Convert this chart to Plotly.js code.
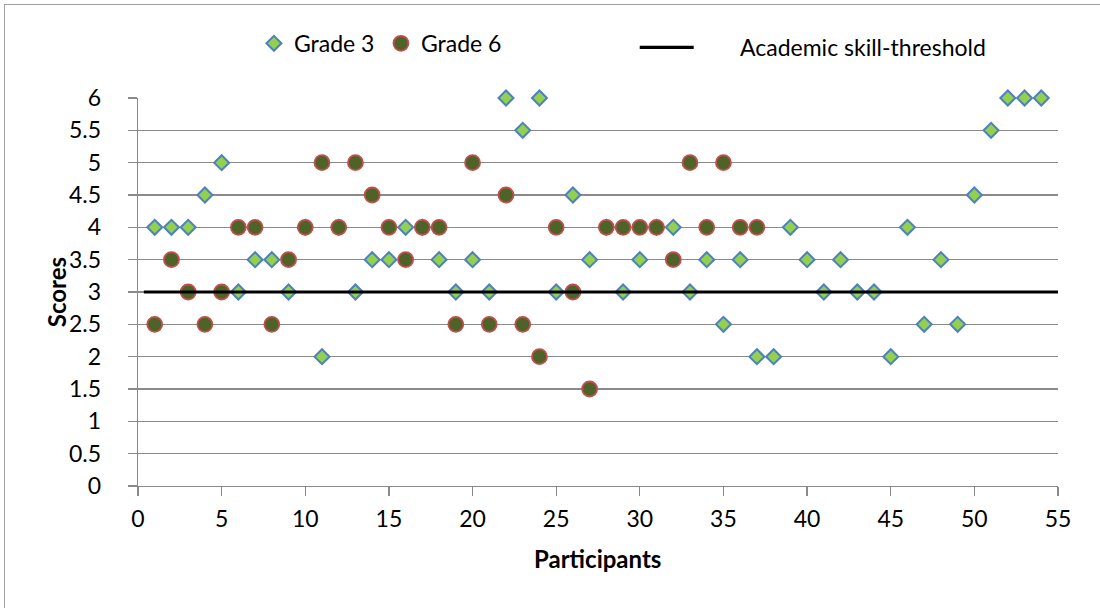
<!DOCTYPE html>
<html>
<head>
<meta charset="utf-8">
<script src="https://cdn.plot.ly/plotly-3.0.1.min.js"></script>
<style>
  html, body { margin: 0; padding: 0; background: #fff; overflow: hidden; }
  #chart { width: 1100px; height: 608px; }
  #frame { position: absolute; left: 4px; top: 4px; width: 2000px; height: 2000px;
           border-left: 1.5px solid #a0a0a0; border-top: 1.5px solid #a0a0a0; pointer-events: none; }
</style>
</head>
<body>
<div id="chart"></div>
<div id="frame"></div>
<script>
// ---- data ----
const grade3Participants = [1,2,3,4,5,6,7,8,9,10,11,12,13,14,15,16,17,18,19,20,21,22,23,24,25,26,27,
  28,29,30,31,32,33,34,35,36,37,38,39,40,41,42,43,44,45,46,47,48,49,50,51,52,53,54];
const grade3Scores = [4,4,4,4.5,5,3,3.5,3.5,3,4,2,4,3,3.5,3.5,4,4,3.5,3,3.5,3,6,5.5,6,3,4.5,3.5,
  4,3,3.5,4,4,3,3.5,2.5,3.5,2,2,4,3.5,3,3.5,3,3,2,4,2.5,3.5,2.5,4.5,5.5,6,6,6];
const grade6Participants = [1,2,3,4,5,6,7,8,9,10,11,12,13,14,15,16,17,18,19,20,21,22,23,24,25,26,27,
  28,29,30,31,32,33,34,35,36,37];
const grade6Scores = [2.5,3.5,3,2.5,3,4,4,2.5,3.5,4,5,4,5,4.5,4,3.5,4,4,2.5,5,2.5,4.5,2.5,2,4,3,1.5,
  4,4,4,4,3.5,5,4,5,4,4];
const thresholdX = [0.35, 55];
const thresholdY = [3, 3];
const seriesNames = ['Grade 3', 'Grade 6', 'Academic skill-threshold'];
const axisTitles = ['Participants', 'Scores'];
const xTickVals = [0,5,10,15,20,25,30,35,40,45,50,55];
const yTickVals = [0,0.5,1,1.5,2,2.5,3,3.5,4,4.5,5,5.5,6];

// ---- layout helpers (page px -> paper) ----
const ML = 138, MR = 41.5, MT = 97.7, MB = 122;
const PW = 1100 - ML - MR, PH = 608 - MT - MB;
const px = v => (v - ML) / PW;
const py = v => (608 - MB - v) / PH;

const FONT = 'Lato, "Open Sans", sans-serif';
const FS = 23;
const grid = '#8a8a8a';

const traces = [
  {
    x: grade3Participants, y: grade3Scores, name: seriesNames[0],
    type: 'scatter', mode: 'markers', cliponaxis: false,
    marker: { symbol: 'diamond', size: 11.5, color: '#92D050', line: { color: '#4F81BD', width: 2 } },
    legend: 'legend'
  },
  {
    x: grade6Participants, y: grade6Scores, name: seriesNames[1],
    type: 'scatter', mode: 'markers', cliponaxis: false,
    marker: { symbol: 'circle', size: 15, color: '#4F6228', line: { color: '#C0504D', width: 1.8 } },
    legend: 'legend'
  },
  {
    x: thresholdX, y: thresholdY, name: seriesNames[2],
    type: 'scatter', mode: 'lines', cliponaxis: false,
    line: { color: '#000000', width: 3.2 },
    showlegend: false
  }
];

const layout = {
  width: 1100, height: 608,
  margin: { l: ML, r: MR, t: MT, b: MB, pad: 0 },
  paper_bgcolor: '#ffffff', plot_bgcolor: '#ffffff',
  font: { family: FONT, size: FS, color: '#000000' },
  xaxis: {
    range: [0, 55], tickmode: 'array', tickvals: xTickVals,
    showgrid: false, zeroline: false,
    showline: true, linecolor: grid, linewidth: 1.3,
    ticks: 'outside', ticklen: 9, tickcolor: grid, tickwidth: 1.3,
    ticklabelstandoff: 3,
    tickfont: { family: FONT, size: FS },
    fixedrange: true
  },
  yaxis: {
    range: [0, 6], tickmode: 'array', tickvals: yTickVals,
    showgrid: true, gridcolor: grid, gridwidth: 1.3, zeroline: false,
    showline: true, linecolor: grid, linewidth: 1.3,
    ticks: 'outside', ticklen: 9, tickcolor: grid, tickwidth: 1.3,
    ticklabelstandoff: 22,
    tickfont: { family: FONT, size: FS },
    fixedrange: true
  },
  showlegend: true,
  legend: {
    orientation: 'h', x: px(254), xanchor: 'left', y: py(43), yanchor: 'middle',
    font: { family: FONT, size: FS }, bgcolor: 'rgba(0,0,0,0)',
    entrywidth: 82, entrywidthmode: 'pixels', itemclick: false, itemdoubleclick: false
  },
  shapes: [
    { type: 'line', xref: 'paper', yref: 'paper', x0: px(640), x1: px(694), y0: py(47), y1: py(47),
      line: { color: '#000000', width: 3.2 } }
  ],
  annotations: [
    { xref: 'paper', yref: 'paper', x: px(738), y: py(47), xanchor: 'left', yanchor: 'middle',
      text: seriesNames[2], showarrow: false, font: { family: FONT, size: FS, color: '#000' } },
    { xref: 'paper', yref: 'paper', x: px(598), y: py(559), xanchor: 'center', yanchor: 'middle',
      text: '<b>' + axisTitles[0] + '</b>', showarrow: false, font: { family: FONT, size: 24, color: '#000' } },
    { xref: 'paper', yref: 'paper', x: px(56), y: py(292), xanchor: 'center', yanchor: 'middle',
      textangle: -90,
      text: '<b>' + axisTitles[1] + '</b>', showarrow: false, font: { family: FONT, size: 24, color: '#000' } }
  ]
};

Plotly.newPlot('chart', traces, layout, { displayModeBar: false, staticPlot: true });
</script>
</body>
</html>
